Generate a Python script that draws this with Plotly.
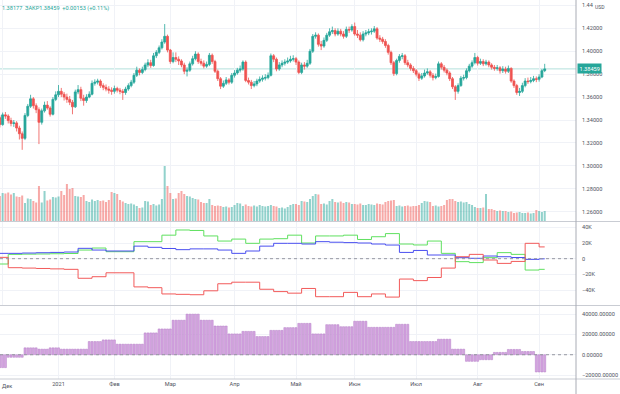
import plotly.graph_objects as go

# ---------------- data ----------------
month_ticks = [1, 21, 41, 61, 84, 106, 127, 149, 171, 193]
month_labels = ["Дек", "2021", "Фев", "Мар", "Апр", "Май", "Июн", "Июл", "Авг", "Сен"]

open_ = [
    1.3420, 1.3360, 1.3445, 1.3435, 1.3395, 1.3370, 1.3375, 1.3330, 1.3280, 1.3240,
    1.3440, 1.3520, 1.3585, 1.3525, 1.3490, 1.3380, 1.3480, 1.3530, 1.3505, 1.3450,
    1.3580, 1.3620, 1.3650, 1.3625, 1.3600, 1.3580, 1.3555, 1.3515, 1.3645, 1.3665,
    1.3590, 1.3570, 1.3600, 1.3625, 1.3720, 1.3730, 1.3740, 1.3700, 1.3685, 1.3670,
    1.3660, 1.3650, 1.3675, 1.3660, 1.3650, 1.3640, 1.3670, 1.3700, 1.3730, 1.3790,
    1.3835, 1.3815, 1.3840, 1.3880, 1.3900, 1.3875, 1.3960, 1.3990, 1.4030, 1.4080,
    1.4130, 1.4010, 1.3910, 1.3945, 1.3930, 1.3915, 1.3880, 1.3825, 1.3835, 1.3890,
    1.3935, 1.3975, 1.3910, 1.3895, 1.3870, 1.3885, 1.3965, 1.3910, 1.3825, 1.3760,
    1.3695, 1.3720, 1.3750, 1.3730, 1.3790, 1.3810, 1.3835, 1.3845, 1.3905, 1.3745,
    1.3730, 1.3700, 1.3715, 1.3740, 1.3755, 1.3765, 1.3770, 1.3790, 1.3960, 1.3930,
    1.3845, 1.3880, 1.3895, 1.3905, 1.3915, 1.3930, 1.3935, 1.3905, 1.3815, 1.3880,
    1.3870, 1.3895, 1.4000, 1.4130, 1.4140, 1.4060, 1.4045, 1.4095, 1.4140, 1.4170,
    1.4180, 1.4150, 1.4175, 1.4150, 1.4130, 1.4190, 1.4185, 1.4215, 1.4150, 1.4140,
    1.4100, 1.4150, 1.4160, 1.4170, 1.4175, 1.4195, 1.4115, 1.4105, 1.4085, 1.4050,
    1.3990, 1.3900, 1.3805, 1.3920, 1.3955, 1.3960, 1.3900, 1.3880, 1.3850, 1.3830,
    1.3800, 1.3765, 1.3785, 1.3810, 1.3820, 1.3790, 1.3770, 1.3780, 1.3890, 1.3860,
    1.3835, 1.3810, 1.3760, 1.3690, 1.3650, 1.3700, 1.3765, 1.3770, 1.3830, 1.3870,
    1.3900, 1.3945, 1.3895, 1.3910, 1.3890, 1.3905, 1.3880, 1.3860, 1.3850, 1.3855,
    1.3830, 1.3845, 1.3825, 1.3850, 1.3740, 1.3700, 1.3640, 1.3650, 1.3700, 1.3740,
    1.3735, 1.3745, 1.3760, 1.3755, 1.3775, 1.38306,
]
close = [
    1.3360, 1.3445, 1.3435, 1.3395, 1.3370, 1.3375, 1.3330, 1.3280, 1.3240, 1.3440,
    1.3520, 1.3585, 1.3525, 1.3490, 1.3380, 1.3480, 1.3530, 1.3505, 1.3450, 1.3580,
    1.3620, 1.3650, 1.3625, 1.3600, 1.3580, 1.3555, 1.3515, 1.3645, 1.3665, 1.3590,
    1.3570, 1.3600, 1.3625, 1.3720, 1.3730, 1.3740, 1.3700, 1.3685, 1.3670, 1.3660,
    1.3650, 1.3675, 1.3660, 1.3650, 1.3640, 1.3670, 1.3700, 1.3730, 1.3790, 1.3835,
    1.3815, 1.3840, 1.3880, 1.3900, 1.3875, 1.3960, 1.3990, 1.4030, 1.4080, 1.4130,
    1.4010, 1.3910, 1.3945, 1.3930, 1.3915, 1.3880, 1.3825, 1.3835, 1.3890, 1.3935,
    1.3975, 1.3910, 1.3895, 1.3870, 1.3885, 1.3965, 1.3910, 1.3825, 1.3760, 1.3695,
    1.3720, 1.3750, 1.3730, 1.3790, 1.3810, 1.3835, 1.3845, 1.3905, 1.3745, 1.3730,
    1.3700, 1.3715, 1.3740, 1.3755, 1.3765, 1.3770, 1.3790, 1.3960, 1.3930, 1.3845,
    1.3880, 1.3895, 1.3905, 1.3915, 1.3930, 1.3935, 1.3905, 1.3815, 1.3880, 1.3870,
    1.3895, 1.4000, 1.4130, 1.4140, 1.4060, 1.4045, 1.4095, 1.4140, 1.4170, 1.4180,
    1.4150, 1.4175, 1.4150, 1.4130, 1.4190, 1.4185, 1.4215, 1.4150, 1.4140, 1.4100,
    1.4150, 1.4160, 1.4170, 1.4175, 1.4195, 1.4115, 1.4105, 1.4085, 1.4050, 1.3990,
    1.3900, 1.3805, 1.3920, 1.3955, 1.3960, 1.3900, 1.3880, 1.3850, 1.3830, 1.3800,
    1.3765, 1.3785, 1.3810, 1.3820, 1.3790, 1.3770, 1.3780, 1.3890, 1.3860, 1.3835,
    1.3810, 1.3760, 1.3690, 1.3650, 1.3700, 1.3765, 1.3770, 1.3830, 1.3870, 1.3900,
    1.3945, 1.3895, 1.3910, 1.3890, 1.3905, 1.3880, 1.3860, 1.3850, 1.3855, 1.3830,
    1.3845, 1.3825, 1.3850, 1.3740, 1.3700, 1.3640, 1.3650, 1.3700, 1.3740, 1.3735,
    1.3745, 1.3760, 1.3755, 1.3775, 1.38306, 1.38459,
]
high = [
    1.3440, 1.3465, 1.3470, 1.3450, 1.3420, 1.3400, 1.3390, 1.3350, 1.3300, 1.3460,
    1.3540, 1.3620, 1.3600, 1.3545, 1.3510, 1.3500, 1.3560, 1.3565, 1.3520, 1.3600,
    1.3650, 1.3705, 1.3680, 1.3645, 1.3630, 1.3610, 1.3575, 1.3665, 1.3705, 1.3690,
    1.3620, 1.3625, 1.3650, 1.3745, 1.3755, 1.3760, 1.3755, 1.3720, 1.3710, 1.3695,
    1.3685, 1.3700, 1.3690, 1.3680, 1.3670, 1.3690, 1.3720, 1.3750, 1.3810, 1.3865,
    1.3850, 1.3865, 1.3900, 1.3930, 1.3925, 1.3985, 1.4010, 1.4050, 1.4105, 1.4237,
    1.4145, 1.4020, 1.3990, 1.3990, 1.3955, 1.3930, 1.3900, 1.3860, 1.3910, 1.3960,
    1.4000, 1.3990, 1.3935, 1.3920, 1.3910, 1.3985, 1.3980, 1.3925, 1.3840, 1.3775,
    1.3745, 1.3775, 1.3765, 1.3810, 1.3835, 1.3855, 1.3875, 1.3920, 1.3920, 1.3770,
    1.3750, 1.3740, 1.3760, 1.3780, 1.3790, 1.3800, 1.3815, 1.3980, 1.3975, 1.3945,
    1.3905, 1.3920, 1.3930, 1.3945, 1.3960, 1.3965, 1.3950, 1.3920, 1.3900, 1.3905,
    1.3925, 1.4020, 1.4150, 1.4165, 1.4155, 1.4090, 1.4120, 1.4160, 1.4200, 1.4215,
    1.4200, 1.4200, 1.4195, 1.4175, 1.4215, 1.4215, 1.4235, 1.4250, 1.4185, 1.4165,
    1.4175, 1.4185, 1.4195, 1.4200, 1.4220, 1.4210, 1.4140, 1.4125, 1.4105, 1.4065,
    1.4005, 1.3915, 1.3935, 1.3975, 1.3985, 1.3975, 1.3925, 1.3895, 1.3870, 1.3845,
    1.3815, 1.3810, 1.3840, 1.3850, 1.3835, 1.3810, 1.3805, 1.3910, 1.3905, 1.3880,
    1.3850, 1.3825, 1.3775, 1.3705, 1.3720, 1.3785, 1.3795, 1.3850, 1.3890, 1.3920,
    1.3985, 1.3960, 1.3935, 1.3930, 1.3925, 1.3920, 1.3895, 1.3880, 1.3880, 1.3870,
    1.3870, 1.3865, 1.3875, 1.3860, 1.3755, 1.3715, 1.3680, 1.3725, 1.3765, 1.3770,
    1.3775, 1.3785, 1.3780, 1.3800, 1.3845, 1.3890,
]
low = [
    1.3335, 1.3350, 1.3410, 1.3370, 1.3345, 1.3340, 1.3300, 1.3230, 1.3140, 1.3225,
    1.3425, 1.3505, 1.3500, 1.3460, 1.3190, 1.3360, 1.3465, 1.3490, 1.3430, 1.3440,
    1.3565, 1.3600, 1.3600, 1.3570, 1.3550, 1.3530, 1.3450, 1.3505, 1.3625, 1.3565,
    1.3525, 1.3550, 1.3590, 1.3615, 1.3700, 1.3710, 1.3680, 1.3660, 1.3650, 1.3630,
    1.3620, 1.3630, 1.3640, 1.3625, 1.3575, 1.3620, 1.3655, 1.3685, 1.3715, 1.3775,
    1.3790, 1.3800, 1.3825, 1.3860, 1.3855, 1.3865, 1.3940, 1.3975, 1.4015, 1.4065,
    1.3990, 1.3890, 1.3895, 1.3905, 1.3880, 1.3860, 1.3800, 1.3780, 1.3820, 1.3875,
    1.3920, 1.3890, 1.3875, 1.3850, 1.3855, 1.3870, 1.3890, 1.3810, 1.3740, 1.3670,
    1.3680, 1.3705, 1.3710, 1.3715, 1.3770, 1.3795, 1.3815, 1.3830, 1.3730, 1.3710,
    1.3670, 1.3685, 1.3695, 1.3725, 1.3735, 1.3745, 1.3755, 1.3780, 1.3905, 1.3825,
    1.3830, 1.3860, 1.3875, 1.3890, 1.3900, 1.3910, 1.3880, 1.3800, 1.3800, 1.3840,
    1.3855, 1.3880, 1.3985, 1.4110, 1.4040, 1.4010, 1.4030, 1.4080, 1.4125, 1.4150,
    1.4130, 1.4135, 1.4130, 1.4110, 1.4115, 1.4160, 1.4170, 1.4135, 1.4115, 1.4085,
    1.4085, 1.4130, 1.4140, 1.4145, 1.4160, 1.4100, 1.4080, 1.4065, 1.4030, 1.3970,
    1.3880, 1.3785, 1.3790, 1.3900, 1.3930, 1.3880, 1.3860, 1.3830, 1.3810, 1.3780,
    1.3740, 1.3750, 1.3770, 1.3795, 1.3770, 1.3745, 1.3755, 1.3770, 1.3840, 1.3815,
    1.3790, 1.3740, 1.3670, 1.3575, 1.3630, 1.3690, 1.3745, 1.3755, 1.3815, 1.3855,
    1.3885, 1.3875, 1.3880, 1.3870, 1.3875, 1.3860, 1.3840, 1.3830, 1.3830, 1.3805,
    1.3810, 1.3805, 1.3810, 1.3725, 1.3680, 1.3620, 1.3610, 1.3635, 1.3685, 1.3715,
    1.3720, 1.3730, 1.3730, 1.3735, 1.3765, 1.38177,
]
volume = [
    100, 112, 110, 114, 106, 112, 98, 96, 102, 72, 90, 88, 80, 74, 140, 74, 120, 82, 86, 96, 94,
    98, 120, 104, 148, 128, 132, 100, 98, 96, 104, 80, 76, 86, 80, 84, 80, 82, 76, 84, 116,
    112, 108, 84, 78, 72, 68, 70, 66, 60, 52, 54, 80, 78, 64, 68, 62, 66, 88, 220, 140,
    112, 88, 90, 112, 120, 108, 100, 98, 92, 88, 86, 76, 72, 72, 88, 64, 60, 62, 60, 56, 58, 54, 56,
    64, 72, 70, 60, 66, 60, 58, 62, 58, 64, 60, 58, 60, 64, 60, 58, 52, 54, 50, 56, 64, 68,
    68, 64, 80, 78, 76, 88, 100, 108, 106, 68, 70, 66, 80, 88, 76, 74, 78, 72, 76, 74, 68,
    68, 66, 70, 64, 64, 68, 66, 64, 70, 68, 66, 76, 80, 82, 84, 60, 62, 58, 60, 62, 58, 60,
    60, 64, 72, 80, 78, 76, 60, 62, 58, 60, 64, 84, 88, 88, 80, 76, 78, 74, 76, 68, 64, 56,
    52, 52, 54, 108, 48, 48, 44, 40, 42, 40, 40, 36, 38, 32, 34, 36, 32, 32, 34, 30, 32, 44,
    40, 36, 40,
]

# weekly positioning indicator (thousands of contracts)
week_idx = [0, 3, 8, 13, 18, 23, 28, 33, 38, 43, 48, 53, 58, 63, 68, 73, 78, 83, 88, 93,
            98, 103, 108, 113, 118, 123, 128, 133, 138, 143, 148, 153, 158, 163, 168, 173,
            178, 183, 188, 193, 195]
green_k = [-6.8, 5.5, 5.8, 6.0, 6.3, 6.6, 11.0, 13.6, 8.9, 8.9, 21.7, 21.7, 30.0, 36.6, 36.0,
           29.0, 22.5, 25.0, 19.6, 25.0, 25.5, 30.0, 20.0, 29.0, 29.0, 30.0, 24.5, 28.0, 32.0,
           18.7, 17.5, 22.5, 6.8, -3.8, -5.0, 1.3, 7.7, 5.5, -14.5, -13.6, -13.6]
blue_k = [6.8, 6.8, 7.2, 7.6, 8.0, 8.5, 13.2, 11.0, 9.8, 9.8, 16.0, 14.5, 13.0, 11.5, 12.5,
          12.5, 11.0, 6.8, 9.8, 16.0, 19.6, 19.6, 18.7, 21.7, 21.0, 20.5, 20.0, 18.7, 17.4,
          8.0, 10.5, 4.7, 4.7, 1.3, 0.5, 3.4, 2.5, 1.5, -0.9, -0.2, -0.2]
red_k = [1.7, -11.5, -12.0, -12.5, -13.0, -13.6, -25.0, -23.0, -18.0, -18.0, -36.0, -37.0,
         -45.0, -45.5, -46.0, -41.0, -32.0, -30.0, -30.0, -39.0, -42.0, -44.0, -38.0, -48.5,
         -48.5, -43.0, -48.5, -45.0, -49.0, -26.0, -28.0, -24.0, -12.0, 2.5, 5.5, -1.7, -6.0,
         -3.5, 19.6, 15.0, 15.0]

# daily histogram (net position)
hist = [
    -12700, -12700, -12700,
    -2500, -2500, -2500, -2500, -2500, -2500,
    6800, 6800, 6800, 6800, 6800,
    5500, 5500, 5500, 5500,
    6800, 6800, 6800, 6800,
    5500, 5500, 5500, 5500, 5500, 5500, 5500, 5500, 5500, 5500,
    13000, 13000, 13000, 13000, 13000,
    14600, 14600, 14600, 14600, 14600,
    10400, 10400, 10400, 10400, 10400, 10400, 10400, 10400, 10400, 10400,
    21500, 21500, 21500, 21500, 21500,
    25400, 25400, 25400, 25400, 25400,
    34000, 34000, 34000, 34000, 34000,
    40000, 40000, 40000, 40000, 40000,
    34000, 34000, 34000, 34000, 34000,
    28300, 28300, 28300, 28300, 28300,
    20500, 20500, 20500, 20500, 20500,
    23000, 23000, 23000, 23000, 23000,
    17900, 17900, 17900, 17900, 17900,
    24000, 24000, 24000, 24000, 24000,
    26700, 26700, 26700, 26700, 26700,
    30900, 30900, 30900, 30900, 30900,
    20500, 20500, 20500, 20500, 20500,
    29600, 29600, 29600, 29600, 29600,
    27600, 27600, 27600, 27600, 27600,
    33000, 33000, 33000, 33000, 33000,
    27000, 27000, 27000, 27000, 27000, 27000, 27000, 27000, 27000, 27000,
    30000, 30000, 30000, 30000, 30000,
    13000, 13000, 13000, 13000, 13000, 13000, 13000, 13000, 13000, 13000,
    15300, 15300, 15300, 15300, 15300,
    5500, 5500, 5500, 5500, 5500,
    -6500, -6500, -6500, -6500, -6500,
    -4900, -4900, -4900, -4900, -4900,
    2300, 2300, 2300, 2300, 2300,
    5200, 5200, 5200, 5200, 5200,
    3200, 3200, 3200, 3200, 3200,
    -17000, -17000, -17000, -17000,
]

price_ticks = [1.26, 1.28, 1.30, 1.32, 1.34, 1.36, 1.38, 1.40, 1.42, 1.44]
price_tick_text = ["1.26000", "1.28000", "1.30000", "1.32000", "1.34000", "1.36000",
                   "1.38000", "1.40000", "1.42000", "1.44"]
ind_ticks = [-40, -20, 0, 20, 40]
ind_tick_text = ["\u221240K", "\u221220K", "0", "20K", "40K"]
hist_ticks = [-20000, 0, 20000, 40000]
hist_tick_text = ["\u221220000.00000", "0.00000", "20000.00000", "40000.00000"]
header_text = "1.38177  ЗАКР1.38459  +0.00153 (+0.11%)"

# ---------------- style ----------------
UP = "#26a69a"
DN = "#ef5350"
UP_VOL = "rgba(38,166,154,0.5)"
DN_VOL = "rgba(239,83,80,0.5)"
GRID = "#f0f2f7"
AXIS_FONT = dict(family="Roboto, sans-serif", size=5.6, color="#50535e")
W, H = 620, 394
ML, MR, MT, MB = 0, 44, 0, 15
PH = H - MT - MB  # plot height in px


def pdom(top_px, bottom_px):
    return [(PH - bottom_px) / PH, (PH - top_px) / PH]


bar_idx = list(range(len(close)))
vol_colors = [UP_VOL if c >= o else DN_VOL for o, c in zip(open_, close)]

fig = go.Figure()
fig.add_trace(go.Candlestick(
    x=bar_idx, open=open_, high=high, low=low, close=close,
    xaxis="x2", yaxis="y",
    increasing=dict(line=dict(color=UP, width=0.8), fillcolor=UP),
    decreasing=dict(line=dict(color=DN, width=0.8), fillcolor=DN),
    whiskerwidth=0, hoverinfo="skip", showlegend=False,
))
fig.add_trace(go.Bar(
    x=bar_idx, y=volume, xaxis="x2", yaxis="y2",
    marker=dict(color=vol_colors, line=dict(width=0)),
    hoverinfo="skip", showlegend=False,
))
for vals, col in ((green_k, "#5fe05f"), (blue_k, "#4a4ff0"), (red_k, "#f25a5a")):
    fig.add_trace(go.Scatter(
        x=week_idx, y=vals, mode="lines", xaxis="x3", yaxis="y3",
        line=dict(color=col, width=1, shape="hv"),
        hoverinfo="skip", showlegend=False,
    ))
fig.add_trace(go.Bar(
    x=bar_idx, y=hist, xaxis="x", yaxis="y4",
    marker=dict(color="#d6a6e2", line=dict(color="#b27cc4", width=0.5)),
    hoverinfo="skip", showlegend=False,
))

# the first month label is drawn as an annotation so it stays fully inside the page
bottom_ticks = month_ticks[1:]
bottom_labels = month_labels[1:]

xrange_ = [0.06, 206.2]
common_x = dict(range=xrange_, showgrid=True, gridcolor=GRID, gridwidth=1,
                zeroline=False, showline=False, tickvals=month_ticks, automargin=False,
                rangeslider=dict(visible=False), fixedrange=True)
common_y = dict(side="right", showgrid=True, gridcolor=GRID, zeroline=False, ticks="",
                ticklabelstandoff=5, tickfont=AXIS_FONT, automargin=False, fixedrange=True)

fig.update_layout(
    template="none",
    width=W, height=H,
    margin=dict(l=ML, r=MR, t=MT, b=MB, pad=0),
    paper_bgcolor="white", plot_bgcolor="white",
    font=AXIS_FONT,
    bargap=0.28, boxgap=0.3, boxgroupgap=0.0,
    showlegend=False,
    xaxis=dict(**{**common_x, "tickvals": bottom_ticks}, anchor="y4", ticktext=bottom_labels,
               showticklabels=True, ticks="", tickfont=AXIS_FONT),
    xaxis2=dict(**common_x, anchor="y", matches="x", showticklabels=False),
    xaxis3=dict(**common_x, anchor="y3", matches="x", showticklabels=False),
    yaxis=dict(**common_y, domain=pdom(0, 221), range=[1.25192, 1.44468], anchor="x2",
               tickvals=price_ticks, ticktext=price_tick_text),
    yaxis2=dict(overlaying="y", range=[0, 884], visible=False, anchor="x2",
                automargin=False, fixedrange=True),
    yaxis3=dict(**common_y, domain=pdom(222, 305), range=[-59.1, 46.8], anchor="x3",
                tickvals=ind_ticks, ticktext=ind_tick_text),
    yaxis4=dict(**common_y, domain=pdom(306, 379), range=[-23900, 48000], anchor="x",
                tickvals=hist_ticks, ticktext=hist_tick_text),
)

SEP = "#c9ccd3"
xr = (W - ML) / (W - ML - MR)
shapes = []
for ypx in (221.5, 305.5):
    yp = (PH - ypx) / PH
    shapes.append(dict(type="line", xref="paper", yref="paper", x0=0, x1=xr, y0=yp, y1=yp,
                       line=dict(color=SEP, width=1)))
shapes.append(dict(type="line", xref="paper", yref="paper", x0=0, x1=xr, y0=0, y1=0,
                   line=dict(color=SEP, width=1)))
shapes.append(dict(type="line", xref="paper", yref="paper", x0=1, x1=1, y0=-MB / PH, y1=1,
                   line=dict(color="#a9acb5", width=1)))
shapes.append(dict(type="line", xref="paper", yref="y", x0=0, x1=1, y0=close[-1], y1=close[-1],
                   line=dict(color="rgba(38,166,154,0.35)", width=1), layer="below"))
shapes.append(dict(type="line", xref="paper", yref="y3", x0=0, x1=1, y0=0, y1=0,
                   line=dict(color="#9598a1", width=1, dash="dot")))
shapes.append(dict(type="line", xref="paper", yref="y4", x0=0, x1=1, y0=0, y1=0,
                   line=dict(color="#9598a1", width=1, dash="dot")))
fig.update_layout(shapes=shapes)

annotations = [
    dict(xref="paper", yref="y", x=1, y=close[-1], xanchor="left", yanchor="middle",
         xshift=1, text="%.5f" % close[-1], showarrow=False, bgcolor=UP,
         font=dict(family="Roboto, sans-serif", size=5.6, color="white"), borderpad=1.5),
    dict(xref="paper", yref="paper", x=1, y=1, xanchor="left", yanchor="top",
         xshift=17, yshift=-2, text="USD", showarrow=False,
         font=dict(family="Roboto, sans-serif", size=5, color="#50535e")),
    dict(xref="paper", yref="paper", x=0, y=1, xanchor="left", yanchor="top",
         xshift=0, yshift=-3, text=header_text, showarrow=False,
         font=dict(family="Roboto, sans-serif", size=5.6, color=UP)),
    dict(xref="paper", yref="paper", x=0, y=0, xanchor="left", yanchor="middle",
         xshift=0, yshift=-7, text=month_labels[0], showarrow=False, font=AXIS_FONT),
]
fig.update_layout(annotations=annotations)

fig.write_html(
    "out.html",
    config={"staticPlot": True},
    post_script="document.body.style.margin='0';document.body.style.overflow='hidden';",
)
